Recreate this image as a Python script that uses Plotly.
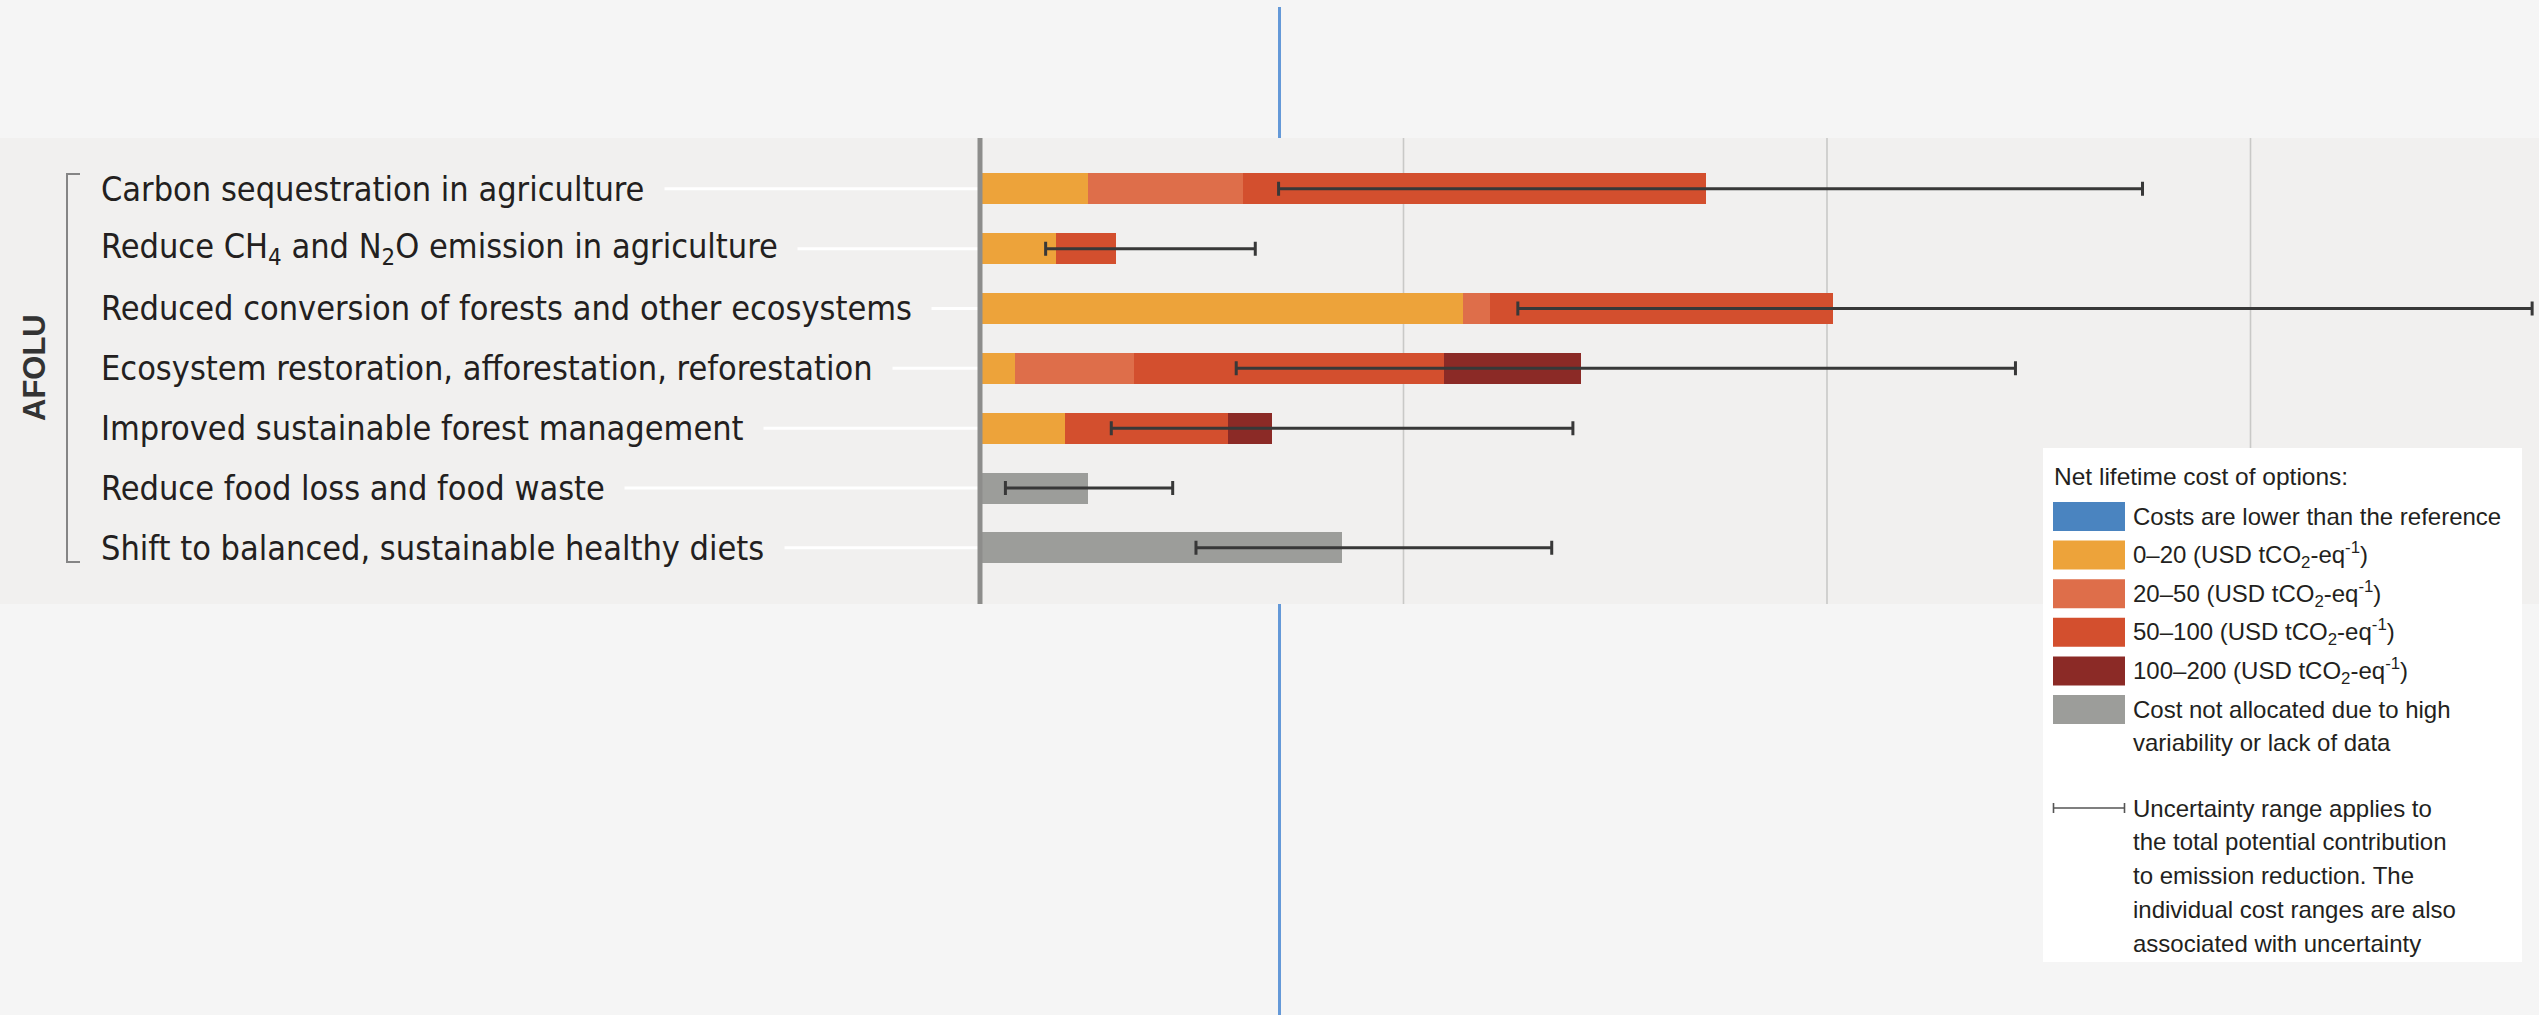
import plotly.graph_objects as go

# ---------------- data ----------------
categories = [
    "Carbon sequestration in agriculture",
    "Reduce CH<sub>4</sub> and N<sub>2</sub>O emission in agriculture",
    "Reduced conversion of forests and other ecosystems",
    "Ecosystem restoration, afforestation, reforestation",
    "Improved sustainable forest management",
    "Reduce food loss and food waste",
    "Shift to balanced, sustainable healthy diets",
]
cost_0_20 = [0.51, 0.36, 2.28, 0.165, 0.40, 0.0, 0.0]
cost_20_50 = [0.73, 0.0, 0.13, 0.56, 0.0, 0.0, 0.0]
cost_50_100 = [2.19, 0.28, 1.62, 1.465, 0.77, 0.0, 0.0]
cost_100_200 = [0.0, 0.0, 0.0, 0.65, 0.21, 0.0, 0.0]
cost_not_allocated = [0.0, 0.0, 0.0, 0.0, 0.0, 0.51, 1.71]
uncert_low = [1.41, 0.31, 2.54, 1.21, 0.62, 0.12, 1.02]
uncert_high = [5.49, 1.30, 7.33, 4.89, 2.80, 0.91, 2.70]
gridline_values = [2, 4, 6]
group_label = "AFOLU"
legend_title = "Net lifetime cost of options:"
legend_labels = [
    ["Costs are lower than the reference"],
    ["0\u201320 (USD tCO<sub>2</sub>-eq<sup>-1</sup>)"],
    ["20\u201350 (USD tCO<sub>2</sub>-eq<sup>-1</sup>)"],
    ["50\u2013100 (USD tCO<sub>2</sub>-eq<sup>-1</sup>)"],
    ["100\u2013200 (USD tCO<sub>2</sub>-eq<sup>-1</sup>)"],
    ["Cost not allocated due to high", "variability or lack of data"],
]
uncert_text = [
    "Uncertainty range applies to",
    "the total potential contribution",
    "to emission reduction. The",
    "individual cost ranges are also",
    "associated with uncertainty",
]

# ---------------- styles ----------------
W, H = 2539, 1015
C_BLUE = "#4a84c0"
C_0_20 = "#eda33a"
C_20_50 = "#de6e4a"
C_50_100 = "#d34f2e"
C_100_200 = "#8b2a26"
C_NA = "#9c9d9a"
PAGE_BG = "#f5f5f5"
BAND_BG = "#f1f0ef"
TEXT_C = "#231f20"
LABEL_FONT = "DejaVu Sans Condensed, Liberation Sans, Arial, sans-serif"
LEG_FONT = "Liberation Sans, Arial, sans-serif"

def X(px):
    return px / W

def Y(py):
    return 1 - py / H

# axis calibration (pixels)
AX0_PX, PX_PER_UNIT = 980.0, 211.75
ROW0_PX, ROW_PITCH = 188.8, 59.84
x_range = [(0 - AX0_PX) / PX_PER_UNIT, (W - AX0_PX) / PX_PER_UNIT]
y_range = [(H - ROW0_PX) / ROW_PITCH, (0 - ROW0_PX) / ROW_PITCH]
BAR_W = 31 / ROW_PITCH

fig = go.Figure()

series = [
    ("0\u201320", cost_0_20, C_0_20),
    ("20\u201350", cost_20_50, C_20_50),
    ("50\u2013100", cost_50_100, C_50_100),
    ("100\u2013200", cost_100_200, C_100_200),
    ("Cost not allocated", cost_not_allocated, C_NA),
]
for name, vals, col in series:
    fig.add_trace(go.Bar(
        y=categories, x=vals, orientation="h", name=name,
        marker=dict(color=col, line=dict(width=0)), width=BAR_W,
        showlegend=False, hoverinfo="skip",
    ))

totals = [sum(v) for v in zip(cost_0_20, cost_20_50, cost_50_100, cost_100_200, cost_not_allocated)]
fig.add_trace(go.Scatter(
    y=categories, x=totals, mode="markers",
    marker=dict(size=1, color="rgba(0,0,0,0)"),
    error_x=dict(type="data", symmetric=False,
                 array=[h - t for h, t in zip(uncert_high, totals)],
                 arrayminus=[t - l for t, l in zip(totals, uncert_low)],
                 color="#383838", thickness=3, width=7),
    showlegend=False, hoverinfo="skip",
))

shapes = []
# page blue divider line (behind band)
shapes.append(dict(type="line", xref="paper", yref="paper", x0=X(1279.5), x1=X(1279.5),
                   y0=Y(7), y1=0, line=dict(color="#6499d8", width=3), layer="below"))
# band
shapes.append(dict(type="rect", xref="paper", yref="paper", x0=0, x1=1, y0=Y(604), y1=Y(138),
                   fillcolor=BAND_BG, line=dict(width=0), layer="below"))
# gridlines
for g in gridline_values:
    shapes.append(dict(type="line", xref="x", yref="paper", x0=g, x1=g, y0=Y(604), y1=Y(138),
                       line=dict(color="#c9c9c7", width=1.6), layer="below"))
# leader lines
LABEL_LEFT = 102
for c in categories:
    shapes.append(dict(type="line", xref="paper", yref="y", x0=X(LABEL_LEFT + 10), x1=X(AX0_PX),
                       y0=c, y1=c, line=dict(color="#ffffff", width=3), layer="below"))
# zero axis line (above bars)
shapes.append(dict(type="line", xref="x", yref="paper", x0=0, x1=0, y0=Y(604), y1=Y(138),
                   line=dict(color="#8d8d8b", width=5), layer="above"))
# bracket
shapes.append(dict(type="path", xref="paper", yref="paper",
                   path=f"M {X(80)},{Y(174)} L {X(67)},{Y(174)} L {X(67)},{Y(562)} L {X(80)},{Y(562)}",
                   line=dict(color="#858585", width=2)))

# legend box
shapes.append(dict(type="rect", xref="paper", yref="paper", x0=X(2043), x1=X(2522), y0=Y(962), y1=Y(448),
                   fillcolor="#ffffff", line=dict(width=0), layer="above"))
legend_colors = [C_BLUE, C_0_20, C_20_50, C_50_100, C_100_200, C_NA]
annotations = []
annotations.append(dict(xref="paper", yref="paper", x=X(2052), y=Y(476), xanchor="left", yanchor="middle",
                        text=legend_title, showarrow=False, font=dict(family=LEG_FONT, size=24.5, color=TEXT_C)))
SW_TOP0, SW_PITCH, SW_H = 502, 38.6, 29
for i, (col, lines) in enumerate(zip(legend_colors, legend_labels)):
    top = SW_TOP0 + i * SW_PITCH
    shapes.append(dict(type="rect", xref="paper", yref="paper", x0=X(2053), x1=X(2125),
                       y0=Y(top + SW_H), y1=Y(top), fillcolor=col, line=dict(width=0), layer="above"))
    for j, ln in enumerate(lines):
        annotations.append(dict(xref="paper", yref="paper", x=X(2131), y=Y(top + SW_H / 2 + j * 33),
                                xanchor="left", yanchor="middle", text=ln, showarrow=False,
                                font=dict(family=LEG_FONT, size=24, color=TEXT_C)))
# uncertainty symbol
UY = 808
shapes.append(dict(type="line", xref="paper", yref="paper", x0=X(2053), x1=X(2125), y0=Y(UY), y1=Y(UY),
                   line=dict(color="#555555", width=1.6), layer="above"))
for ux in (2053.5, 2124.5):
    shapes.append(dict(type="line", xref="paper", yref="paper", x0=X(ux), x1=X(ux), y0=Y(UY - 5), y1=Y(UY + 5),
                       line=dict(color="#555555", width=1.6), layer="above"))
for j, ln in enumerate(uncert_text):
    annotations.append(dict(xref="paper", yref="paper", x=X(2131), y=Y(UY + j * 33.8),
                            xanchor="left", yanchor="middle", text=ln, showarrow=False,
                            font=dict(family=LEG_FONT, size=24, color=TEXT_C)))

# category labels (background hides the leader line behind text)
for c in categories:
    annotations.append(dict(xref="paper", yref="y", x=X(LABEL_LEFT - 2), y=c, xanchor="left", yanchor="middle",
                            text=c + "\u00a0\u00a0", showarrow=False, bgcolor=BAND_BG, borderpad=0,
                            font=dict(family=LABEL_FONT, size=34, color=TEXT_C)))
# group label
annotations.append(dict(xref="paper", yref="paper", x=X(34), y=Y(368), xanchor="center", yanchor="middle",
                        text="<b>" + group_label + "</b>", textangle=-90, showarrow=False,
                        font=dict(family=LEG_FONT, size=31, color="#333333")))

fig.update_layout(
    width=W, height=H, margin=dict(l=0, r=0, t=0, b=0, pad=0),
    paper_bgcolor=PAGE_BG, plot_bgcolor="rgba(0,0,0,0)",
    barmode="stack", bargap=0, showlegend=False,
    xaxis=dict(range=x_range, showgrid=False, zeroline=False, showticklabels=False, showline=False,
               ticks="", fixedrange=True),
    yaxis=dict(range=y_range, type="category", showgrid=False, zeroline=False, showticklabels=False,
               showline=False, ticks="", fixedrange=True),
    shapes=shapes, annotations=annotations,
)

fig.write_html("out.html", config=dict(displayModeBar=False))
